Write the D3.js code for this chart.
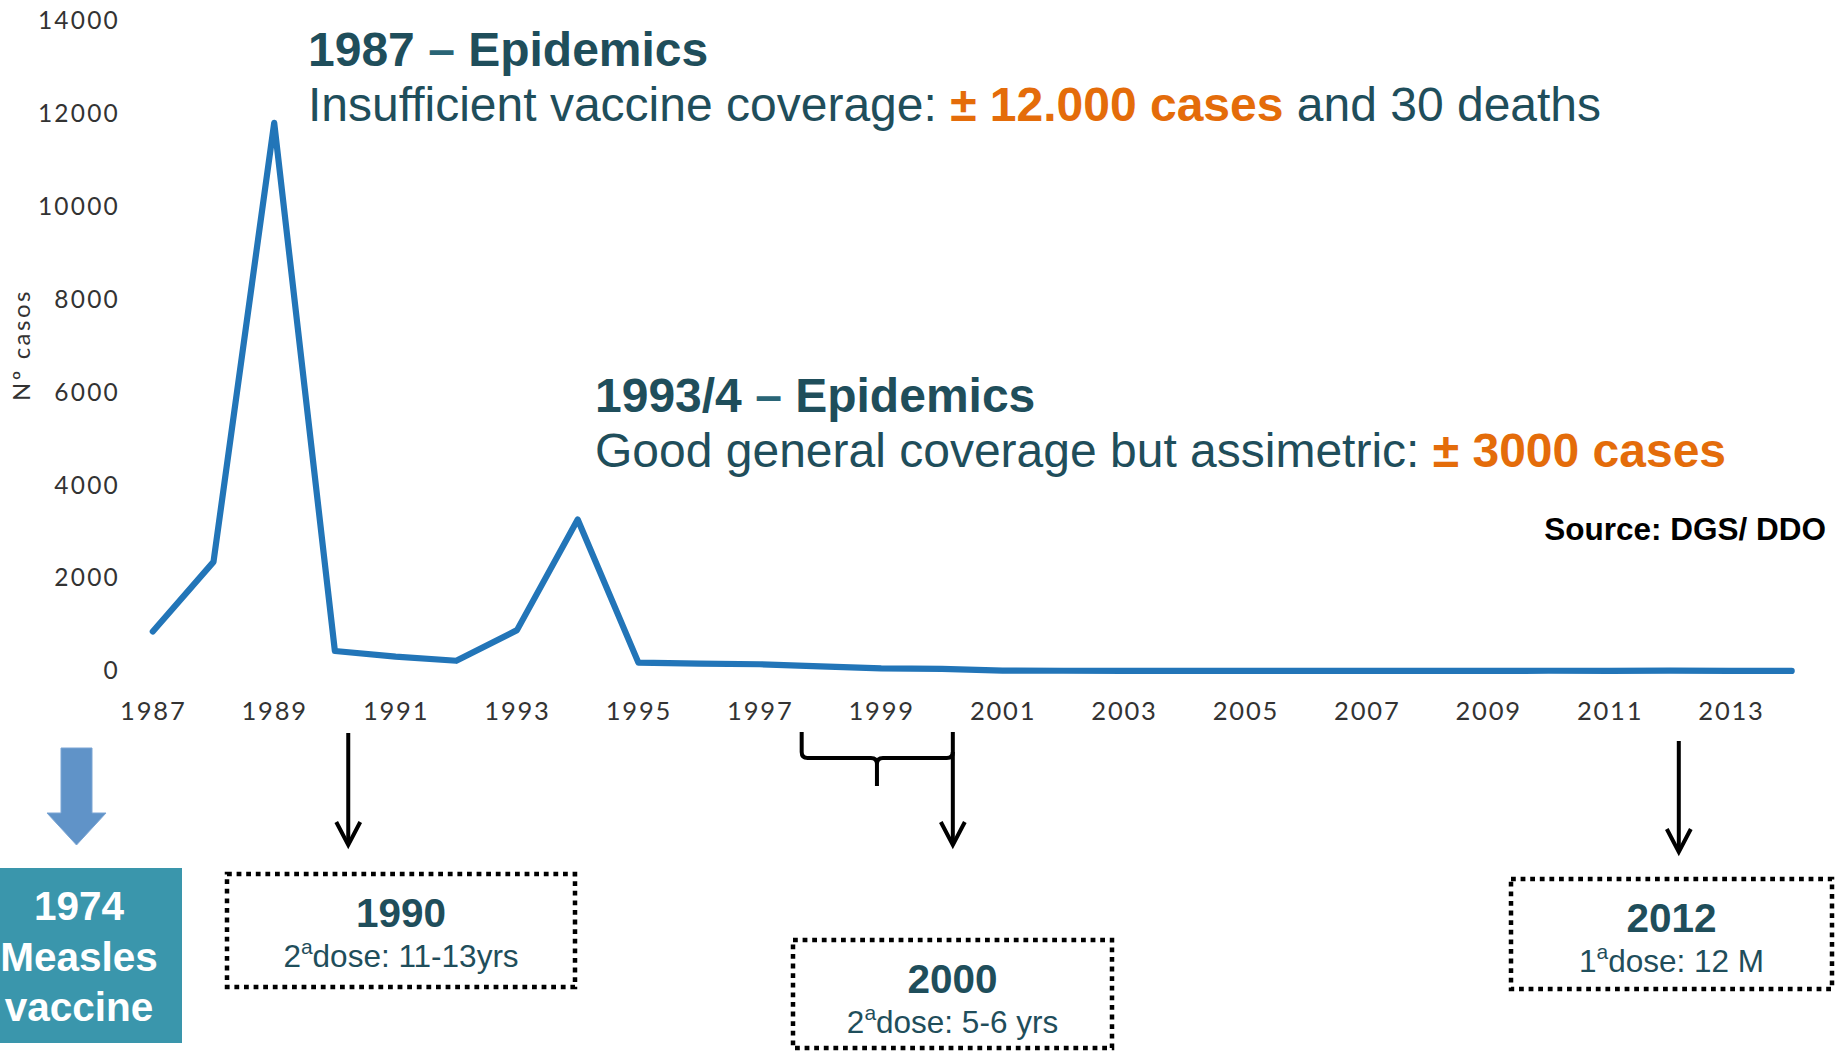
<!DOCTYPE html>
<html>
<head>
<meta charset="utf-8">
<script src="https://cdn.jsdelivr.net/npm/d3@7"></script>
<style>
  html, body { margin: 0; padding: 0; background: #ffffff; }
  svg { display: block; }
</style>
</head>
<body>
<svg id="chart" width="1843" height="1051"></svg>
<script>
// Measles cases per year (Portugal, source DGS/DDO)
const years = [1987, 1988, 1989, 1990, 1991, 1992, 1993, 1994, 1995, 1996, 1997, 1998, 1999, 2000,
               2001, 2002, 2003, 2004, 2005, 2006, 2007, 2008, 2009, 2010, 2011, 2012, 2013, 2014];
const cases = [850, 2350, 11800, 430, 310, 220, 880, 3260, 180, 160, 145, 100, 55, 45,
               10, 5, 3, 2, 1, 2, 1, 1, 3, 5, 3, 10, 2, 1];
const yTickValues = [0, 2000, 4000, 6000, 8000, 10000, 12000, 14000];
const xTickValues = [1987, 1989, 1991, 1993, 1995, 1997, 1999, 2001, 2003, 2005, 2007, 2009, 2011, 2013];

// Vaccination schedule milestones shown under the timeline
const milestoneYears = ["1990", "2000", "2012"];
const milestoneDoseOrdinal = ["2", "2", "1"];
const milestoneDoseText = ["dose: 11-13yrs", "dose: 5-6 yrs", "dose: 12 M"];

const TEAL = "#1f4e5b";
const ORANGE = "#e46c0a";
const LINE_BLUE = "#2275b8";
const SANS = "'Liberation Sans', Arial, sans-serif";
const AXIS_FONT = "Lato, 'Open Sans', sans-serif";

const svg = d3.select("#chart");

const x = d3.scaleLinear().domain([1987, 2014]).range([152.8, 1791.7]);
const y = d3.scaleLinear().domain([0, 14000]).range([671, 20.7]);

// ---- axes (labels only, no rules) ----
const yAxis = svg.append("g")
  .attr("transform", "translate(128,0)")
  .call(d3.axisLeft(y).tickValues(yTickValues).tickSize(0).tickPadding(8).tickFormat(d3.format("d")));
yAxis.select(".domain").remove();
yAxis.selectAll("text")
  .attr("font-family", AXIS_FONT)
  .attr("font-size", 24.5)
  .attr("letter-spacing", 2.2)
  .attr("fill", "#333333");

const xAxis = svg.append("g")
  .attr("transform", "translate(0,694)")
  .call(d3.axisBottom(x).tickValues(xTickValues).tickSize(0).tickPadding(8).tickFormat(d3.format("d")));
xAxis.select(".domain").remove();
xAxis.selectAll("text")
  .attr("font-family", AXIS_FONT)
  .attr("font-size", 25.5)
  .attr("letter-spacing", 1.8)
  .attr("fill", "#333333");

svg.append("text")
  .attr("transform", "translate(30,345) rotate(-90)")
  .attr("text-anchor", "middle")
  .attr("font-family", AXIS_FONT)
  .attr("font-size", 24)
  .attr("letter-spacing", 2.5)
  .attr("fill", "#333333")
  .text("Nº casos");

// ---- the case curve ----
const line = d3.line()
  .x((d, i) => x(years[i]))
  .y(d => y(d));

svg.append("path")
  .datum(cases)
  .attr("d", line)
  .attr("fill", "none")
  .attr("stroke", LINE_BLUE)
  .attr("stroke-width", 6.2)
  .attr("stroke-linejoin", "round")
  .attr("stroke-linecap", "round");

// ---- epidemic annotations ----
function headline(xPos, yTitle, yBody, title, bodyParts) {
  const t = svg.append("text")
    .attr("x", xPos).attr("y", yTitle)
    .attr("font-family", SANS).attr("font-size", 48)
    .attr("font-weight", "bold").attr("fill", TEAL);
  title.forEach(p => t.append("tspan").attr("fill", p.color || TEAL).text(p.text));

  const b = svg.append("text")
    .attr("x", xPos).attr("y", yBody)
    .attr("font-family", SANS).attr("font-size", 48)
    .attr("fill", TEAL)
    .style("white-space", "pre");
  bodyParts.forEach(p => {
    b.append("tspan")
      .attr("fill", p.color || TEAL)
      .attr("font-weight", p.bold ? "bold" : "normal")
      .text(p.text);
  });
}

headline(308, 66, 121,
  [{ text: "1987 " }, { text: "–", color: "#2a6576" }, { text: " Epidemics" }],
  [
    { text: "Insufficient vaccine coverage: " },
    { text: "± 12.000 cases", bold: true, color: ORANGE },
    { text: " and 30 deaths" }
  ]);

headline(595, 412, 467,
  [{ text: "1993/4 " }, { text: "–", color: "#2a6576" }, { text: " Epidemics" }],
  [
    { text: "Good general coverage but assimetric: " },
    { text: "± 3000 cases", bold: true, color: ORANGE }
  ]);

svg.append("text")
  .attr("x", 1826).attr("y", 540)
  .attr("text-anchor", "end")
  .attr("font-family", SANS).attr("font-size", 31.5)
  .attr("font-weight", "bold").attr("fill", "#000000")
  .text("Source: DGS/ DDO");

// ---- 1974 vaccine introduction ----
const bigArrow = [[61, 748], [92, 748], [92, 813], [106, 813], [76.5, 845], [47, 813], [61, 813]];
svg.append("path")
  .attr("d", d3.line()(bigArrow) + "Z")
  .attr("fill", "#6093c8")
  .attr("stroke", "#7aa5d4")
  .attr("stroke-width", 1);

svg.append("rect")
  .attr("x", 0).attr("y", 868)
  .attr("width", 182).attr("height", 175)
  .attr("fill", "#3a96ac");

["1974", "Measles", "vaccine"].forEach((w, i) => {
  svg.append("text")
    .attr("x", 79).attr("y", 920 + i * 50.5)
    .attr("text-anchor", "middle")
    .attr("font-family", SANS).attr("font-size", 40.5)
    .attr("font-weight", "bold").attr("fill", "#ffffff")
    .text(w);
});

// ---- pointer arrows from the timeline to the schedule boxes ----
function downArrow(xPos, yStart, yTip) {
  svg.append("line")
    .attr("x1", xPos).attr("x2", xPos)
    .attr("y1", yStart).attr("y2", yTip - 2)
    .attr("stroke", "#000").attr("stroke-width", 4);
  svg.append("path")
    .attr("d", `M${xPos - 12},${yTip - 23} L${xPos},${yTip} L${xPos + 12},${yTip - 23}`)
    .attr("fill", "none").attr("stroke", "#000")
    .attr("stroke-width", 4).attr("stroke-linejoin", "miter");
}

downArrow(x(1990.22), 733, 845);
downArrow(x(2000.18), 732, 845);
downArrow(x(2012.14), 741, 852);

// brace spanning the 1998–2000 catch-up period
const bL = x(1997.69), bR = x(2000.18), bM = x(1998.93);
const rad = 6, braceTop = 732, braceBar = 758, braceTip = 786;
svg.append("path")
  .attr("d",
    `M${bL},${braceTop} V${braceBar - rad} Q${bL},${braceBar} ${bL + rad},${braceBar} H${bM - rad} ` +
    `Q${bM},${braceBar} ${bM},${braceBar + rad} V${braceTip} ` +
    `M${bM},${braceBar + rad} Q${bM},${braceBar} ${bM + rad},${braceBar} H${bR - rad} ` +
    `Q${bR},${braceBar} ${bR},${braceBar - rad}`)
  .attr("fill", "none").attr("stroke", "#000").attr("stroke-width", 4);

// ---- dotted schedule boxes ----
const boxes = [
  { x0: 227, y0: 874, w: 348, h: 113 },
  { x0: 793, y0: 940, w: 319, h: 108 },
  { x0: 1511, y0: 879, w: 321, h: 110 }
];

boxes.forEach((bx, i) => {
  svg.append("rect")
    .attr("x", bx.x0).attr("y", bx.y0)
    .attr("width", bx.w).attr("height", bx.h)
    .attr("fill", "none")
    .attr("stroke", "#000")
    .attr("stroke-width", 4.5)
    .attr("stroke-dasharray", "4.8 4.8");

  const cx = bx.x0 + bx.w / 2;
  svg.append("text")
    .attr("x", cx).attr("y", bx.y0 + 53)
    .attr("text-anchor", "middle")
    .attr("font-family", SANS).attr("font-size", 40.5)
    .attr("font-weight", "bold").attr("fill", TEAL)
    .text(milestoneYears[i]);

  const t = svg.append("text")
    .attr("x", cx).attr("y", bx.y0 + 93)
    .attr("text-anchor", "middle")
    .attr("font-family", SANS).attr("font-size", 31.5)
    .attr("fill", TEAL);
  t.append("tspan").text(milestoneDoseOrdinal[i]);
  t.append("tspan").attr("font-size", 21).attr("dy", -13).text("a");
  t.append("tspan").attr("dy", 13).text(milestoneDoseText[i]);
});
</script>
</body>
</html>
